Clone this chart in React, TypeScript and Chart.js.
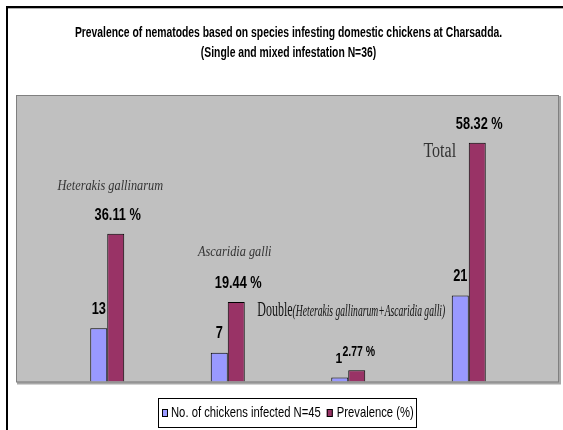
import React, { useEffect, useRef } from "react";
import { Chart, registerables } from "chart.js";

Chart.register(...registerables);

const titleLines = [
  "Prevalence of nematodes based on species infesting domestic chickens at Charsadda.",
  "(Single and mixed infestation N=36)",
];
const categories = ["Heterakis gallinarum", "Ascaridia galli", "Double", "Total"];
const seriesNames = ["No. of chickens infected N=45", "Prevalence (%)"];
const infected = [13, 7, 1, 21];
const prevalence = [36.11, 19.44, 2.77, 58.32];
const infectedLabels = ["13", "7", "1", "21"];
const prevalenceLabels = ["36.11 %", "19.44 %", "2.77 %", "58.32 %"];
const doubleDetail = "(Heterakis gallinarum+Ascaridia galli)";
const yMax = 70;

const BLUE = "#9999FF";
const MAROON = "#993366";
const SANS = '"Liberation Sans", Arial, sans-serif';
const SERIF = '"Liberation Serif", "Times New Roman", serif';

function squeezed(
  ctx: CanvasRenderingContext2D,
  text: string,
  x: number,
  y: number,
  font: string,
  align: "left" | "center" | "right",
  sx: number,
  color = "#000"
): number {
  ctx.save();
  ctx.font = font;
  ctx.textBaseline = "middle";
  ctx.textAlign = "left";
  const w = ctx.measureText(text).width * sx;
  const left = align === "center" ? x - w / 2 : align === "right" ? x - w : x;
  ctx.translate(left, y);
  ctx.scale(sx, 1);
  ctx.fillStyle = color;
  ctx.fillText(text, 0, 0);
  ctx.restore();
  return w;
}

const decor = {
  id: "decor",
  beforeDraw(chart: any) {
    const { ctx, chartArea: a } = chart;
    ctx.save();
    ctx.fillStyle = "#fff";
    ctx.fillRect(0, 0, chart.width, chart.height);
    // outer frame
    ctx.fillStyle = "#000";
    ctx.fillRect(6, 6, 2, chart.height);
    ctx.fillRect(6, 6, chart.width, 2);
    ctx.fillStyle = "#b0b0b0";
    ctx.fillRect(8, 8, chart.width, 1);
    // plot area
    const l = a.left - 31;
    const r = a.right + 30;
    ctx.fillStyle = "#a8a8a8";
    ctx.fillRect(l + 1, a.top + 1, r - l + 1, a.bottom - a.top + 2);
    ctx.fillStyle = "#C0C0C0";
    ctx.fillRect(l, a.top, r - l, a.bottom - a.top);
    ctx.strokeStyle = "#808080";
    ctx.lineWidth = 1;
    ctx.strokeRect(l + 0.5, a.top + 0.5, r - l - 1, a.bottom - a.top);
    ctx.restore();
  },
  afterDatasetsDraw(chart: any) {
    const { ctx } = chart;
    const xs = chart.scales.x;
    const ys = chart.scales.y;
    const m0 = chart.getDatasetMeta(0).data;
    const m1 = chart.getDatasetMeta(1).data;
    // value labels
    m0.forEach((bar: any, i: number) => {
      const small = infected[i] < 5;
      squeezed(ctx, infectedLabels[i], bar.x - (small ? 1 : 0), bar.y - 19, `bold ${small ? 15 : 16}px ${SANS}`, "center", 0.8);
    });
    m1.forEach((bar: any, i: number) => {
      const small = prevalence[i] < 5;
      squeezed(ctx, prevalenceLabels[i], bar.x + 2, bar.y - 18, `bold ${small ? 15 : 16}px ${SANS}`, "center", small ? 0.7 : 0.8);
    });
    // category annotations
    const cx = (i: number) => xs.getPixelForValue(i);
    const top = (i: number) => ys.getPixelForValue(prevalence[i]);
    squeezed(ctx, categories[0], cx(0) + 3, top(0) - 48, `italic 15px ${SERIF}`, "center", 0.82, "#333");
    squeezed(ctx, categories[1], cx(1) + 7, top(1) - 50, `italic 15px ${SERIF}`, "center", 0.82, "#333");
    const dx = cx(2) - 91;
    const dy = top(2) - 59;
    const w = squeezed(ctx, categories[2], dx, dy, `20px ${SERIF}`, "left", 0.6, "#111");
    squeezed(ctx, doubleDetail, dx + w, dy + 1, `italic 16px ${SERIF}`, "left", 0.6, "#111");
    squeezed(ctx, categories[3], cx(3) - 29, top(3) + 9, `20px ${SERIF}`, "center", 0.8, "#333");
    // title
    squeezed(ctx, titleLines[0], 288.5, 33, `bold 14px ${SANS}`, "center", 0.74);
    squeezed(ctx, titleLines[1], 288.5, 53, `bold 14px ${SANS}`, "center", 0.74);
    // legend
    ctx.save();
    ctx.strokeStyle = "#000";
    ctx.lineWidth = 1;
    ctx.strokeRect(158.5, 398.5, 258, 29);
    const key = (x: number, color: string) => {
      ctx.fillStyle = color;
      ctx.fillRect(x, 409, 6, 8);
      ctx.strokeStyle = "#000";
      ctx.strokeRect(x + 0.5, 409.5, 5, 7);
    };
    key(162, BLUE);
    const w1 = squeezed(ctx, seriesNames[0], 171, 413, `15px ${SANS}`, "left", 0.75);
    key(171 + w1 + 6, MAROON);
    squeezed(ctx, seriesNames[1], 171 + w1 + 16, 413, `15px ${SANS}`, "left", 0.75);
    ctx.restore();
  },
};

export default function App() {
  const ref = useRef<HTMLCanvasElement | null>(null);
  useEffect(() => {
    if (!ref.current) return;
    const chart = new Chart(ref.current, {
      type: "bar",
      data: {
        labels: categories,
        datasets: [
          {
            label: seriesNames[0],
            data: infected,
            backgroundColor: BLUE,
            borderColor: "#000",
            borderWidth: 1,
          },
          {
            label: seriesNames[1],
            data: prevalence,
            backgroundColor: MAROON,
            borderColor: "#000",
            borderWidth: 1,
          },
        ],
      },
      options: {
        responsive: false,
        animation: false,
        devicePixelRatio: 1,
        layout: { padding: { left: 47, right: 34, top: 95, bottom: 48.5 } },
        datasets: { bar: { categoryPercentage: 0.282, barPercentage: 1 } },
        scales: {
          x: { display: false },
          y: { display: false, min: 0, max: yMax },
        },
        plugins: {
          legend: { display: false },
          title: { display: false },
          tooltip: { enabled: false },
        },
      },
      plugins: [decor],
    });
    return () => chart.destroy();
  }, []);
  return (
    <div style={{ position: "absolute", left: 0, top: 0, width: 563, height: 430, background: "#fff" }}>
      <canvas ref={ref} width={563} height={430} style={{ display: "block" }} />
    </div>
  );
}
